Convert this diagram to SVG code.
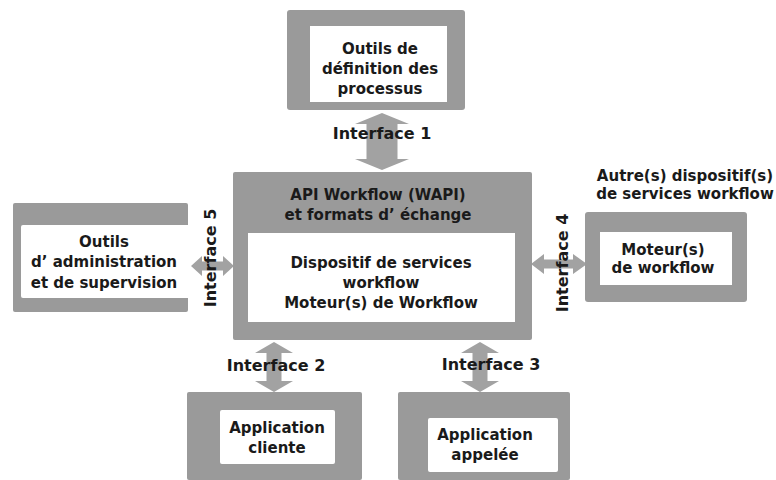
<svg xmlns="http://www.w3.org/2000/svg" width="776" height="480" viewBox="0 0 776 480">
  <style>
    .frame { fill: #9a9a9a; }
    .pane { fill: #ffffff; }
    .arrow { fill: #a2a2a2; }
    text { font-family: "DejaVu Sans", "Liberation Sans", sans-serif; font-weight: bold; fill: #1a1a1a; text-anchor: middle; }
    .t { font-size: 15px; }
    .iface { font-size: 16px; }
  </style>
  <rect width="776" height="480" fill="#ffffff"/>

  <!-- connectors: double-headed interface arrows -->
  <g id="connectors">
    <polygon class="arrow" points="382,113 409,124 397.5,124 397.5,159 409,159 382,170 355,159 366.5,159 366.5,124 355,124"/>
    <polygon class="arrow" points="274,342 293,353 281.5,353 281.5,381 293,381 274,392 255,381 266.5,381 266.5,353 255,353"/>
    <polygon class="arrow" points="480,342 499,353 487.5,353 487.5,381 499,381 480,392 461,381 472.5,381 472.5,353 461,353"/>
    <polygon class="arrow" points="191,266 202,256 202,261.5 223,261.5 223,256 234,266 223,276 223,270.5 202,270.5 202,276"/>
    <polygon class="arrow" points="531,264 544,254 544,259.5 573,259.5 573,254 587,264 573,274 573,268.5 544,268.5 544,274"/>
  </g>

  <!-- process definition tools -->
  <g id="node-definition">
    <rect class="frame" x="287" y="10" width="178" height="100" rx="3"/>
    <rect class="pane" x="310" y="26" width="137" height="76"/>
    <text class="t" x="380" y="54">Outils de</text>
    <text class="t" x="380" y="74">définition des</text>
    <text class="t" x="380" y="94">processus</text>
  </g>

  <!-- central enactment service -->
  <g id="node-core">
    <rect class="frame" x="233" y="172" width="299" height="168" rx="2"/>
    <rect class="pane" x="248" y="233" width="267" height="89"/>
    <text class="t" x="378" y="200">API Workflow (WAPI)</text>
    <text class="t" x="378" y="220">et formats d’ échange</text>
    <text class="t" x="381" y="268">Dispositif de services</text>
    <text class="t" x="381" y="288">workflow</text>
    <text class="t" x="381" y="308">Moteur(s) de Workflow</text>
  </g>

  <!-- administration and monitoring tools -->
  <g id="node-admin">
    <rect class="frame" x="13" y="203" width="175" height="109" rx="2"/>
    <rect class="pane" x="21" y="225" width="169" height="73" rx="2"/>
    <text class="t" x="104" y="247">Outils</text>
    <text class="t" x="104" y="267">d’ administration</text>
    <text class="t" x="104" y="288">et de supervision</text>
  </g>

  <!-- other enactment services -->
  <g id="node-other">
    <text class="t" x="685" y="181">Autre(s) dispositif(s)</text>
    <text class="t" x="685" y="199">de services workflow</text>
    <rect class="frame" x="585" y="212" width="162" height="90" rx="3"/>
    <rect class="pane" x="600" y="232" width="132" height="53"/>
    <text class="t" x="663" y="255">Moteur(s)</text>
    <text class="t" x="663" y="273">de workflow</text>
  </g>

  <!-- client application -->
  <g id="node-client">
    <rect class="frame" x="187" y="392" width="175" height="88" rx="2"/>
    <rect class="pane" x="220" y="410" width="115" height="54" rx="2"/>
    <text class="t" x="277" y="433">Application</text>
    <text class="t" x="277" y="453">cliente</text>
  </g>

  <!-- invoked application -->
  <g id="node-invoked">
    <rect class="frame" x="398" y="392" width="172" height="88" rx="2"/>
    <rect class="pane" x="428" y="418" width="130" height="54" rx="2"/>
    <text class="t" x="485" y="440">Application</text>
    <text class="t" x="485" y="460">appelée</text>
  </g>

  <!-- interface labels -->
  <g id="labels">
    <text class="iface" x="382" y="139">Interface 1</text>
    <text class="iface" x="276" y="371">Interface 2</text>
    <text class="iface" x="491" y="370">Interface 3</text>
    <text class="iface" transform="translate(568,263) rotate(-90)">Interface 4</text>
    <text class="iface" transform="translate(216,258) rotate(-90)">Interface 5</text>
  </g>
</svg>
